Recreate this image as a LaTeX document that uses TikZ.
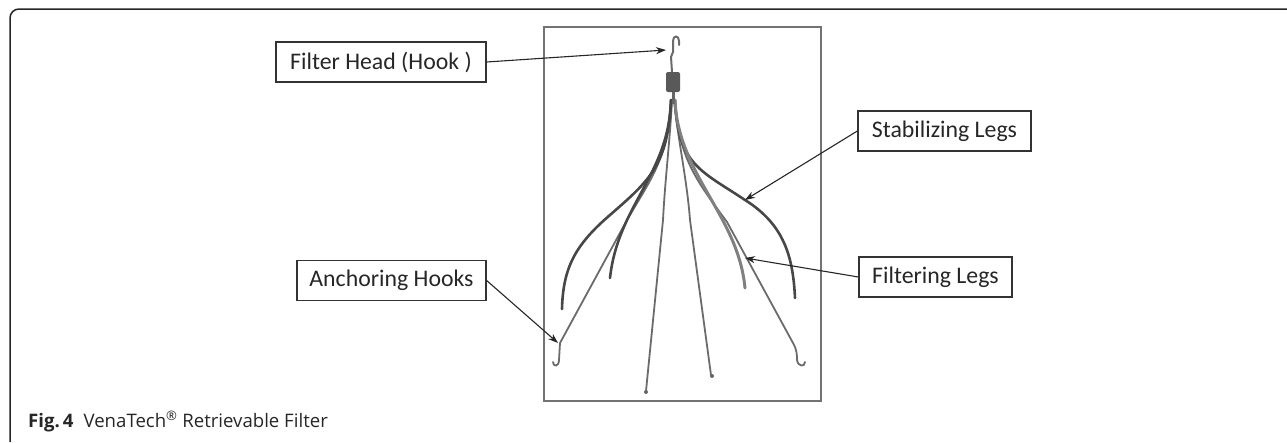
\documentclass[tikz,border=0pt]{standalone}
\usepackage{fontspec}
\setmainfont{Carlito}
\newfontfamily\capfont{Open Sans}
\usepackage{xcolor}
\usetikzlibrary{arrows.meta}
\usetikzlibrary{positioning}
\usetikzlibrary{calc}

\begin{document}
\begin{tikzpicture}[x=1pt, y=-1pt, >={Stealth[length=10pt,width=7pt]},
		lbl/.style={draw=black!80, line width=1.3pt, minimum height=40pt, inner sep=0pt, text=black!85, font=\fontsize{23.8}{26}\selectfont},
		pointer/.style={->, line width=1.1pt, black!85},
		stableg/.style={line width=2.6pt, draw=black!72, line cap=round},
		filtleg/.style={line width=1.8pt, draw=black!58, line cap=round}]
		\useasboundingbox (0,0) rectangle (1287,442);
		
		%frames
		\draw[line width=1.5pt, black!85, rounded corners=9pt] (10,442) -- (10,9) -- (1290,9);
		\draw[line width=1.5pt, black!55] (544,27) rectangle (821,401);
		
		%coordinates
		\coordinate (headtip) at (666,50);
		\coordinate (stabtip) at (745,200);
		\coordinate (filttip) at (745,258);
		\coordinate (anchtip) at (558,343);
		
		%filter
		\draw[filtleg, line width=2pt] (672,72) -- (671,57) -- (673,52) -- (673,41) .. controls (673,35) and (679,35) .. (679,41) -- (679,45);
		\draw[filtleg] (671,100) .. controls (668,160) and (650,180) .. (627,220) -- (560,343) -- (559,360) .. controls (559,367) and (553,367) .. (553,362);
		\draw[filtleg] (675,100) .. controls (678,160) and (700,185) .. (727,222) -- (793,343) .. controls (797,350) and (797,355) .. (797,360) .. controls (798,367) and (805,367) .. (805,362);
		\draw[filtleg] (672,100) .. controls (670,140) and (665,180) .. (663,220) -- (646,391);
		\draw[filtleg] (674,100) .. controls (678,140) and (687,180) .. (690,220) -- (711,375);
		\fill[black!60] (646,392) circle (2pt) (712,376) circle (2pt);
		\draw[stableg] (671,100) .. controls (668,165) and (650,180) .. (610,215) .. controls (575,245) and (563,268) .. (562,309);
		\draw[stableg] (675,100) .. controls (678,165) and (700,170) .. (745,200) .. controls (785,225) and (793,258) .. (795,298);
		\draw[stableg] (671,100) .. controls (669,175) and (618,205) .. (610,278);
		\draw[stableg, draw=black!50, line width=3pt] (675,100) .. controls (678,175) and (738,215) .. (745,288);
		\draw[black!60, line width=3pt] (673,90) -- (673,104);
		\fill[black!65, rounded corners=2pt] (666,72) rectangle (680,92);
		
		%nodes
		\node[lbl, minimum width=210pt] (head) at (381,62) {Filter Head (Hook )};
		\node[lbl, minimum width=173pt] (stab) at (944.5,131) {Stabilizing Legs};
		\node[lbl, minimum width=153pt] (filt) at (935.5,277) {Filtering Legs};
		\node[lbl, minimum width=189pt] (anch) at (391.5,280.5) {Anchoring Hooks};
		\node[anchor=base west, inner sep=0pt, text=black!85, font=\capfont\fontsize{18.6}{21}\selectfont] (caption) at (28,427) {\textbf{Fig.\,4}\hspace{10pt}VenaTech\textsuperscript{\textregistered} Retrievable Filter};
		
		%pointers
		\draw[pointer] (head.east) -- (headtip);
		\draw[pointer] (stab.west) -- (stabtip);
		\draw[pointer] (filt.west) -- (filttip);
		\draw[pointer] (anch.east) -- (anchtip);
\end{tikzpicture}
\end{document}
